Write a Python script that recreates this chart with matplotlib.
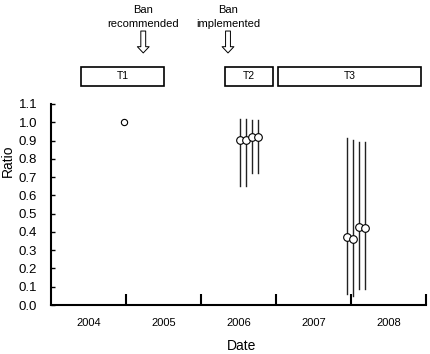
import matplotlib
matplotlib.use("Agg")
import matplotlib.pyplot as plt
from matplotlib.patches import Rectangle
from matplotlib.transforms import blended_transform_factory

plt.rcParams['font.family'] = ['Liberation Sans', 'DejaVu Sans']

# data (x as decimal year)
t1_x = [2004.97]
t1_y = [1.0]

t2_x = [2006.52, 2006.60, 2006.68, 2006.76]
t2_y = [0.905, 0.905, 0.92, 0.92]
t2_lo = [0.653, 0.653, 0.72, 0.72]
t2_hi = [1.02, 1.02, 1.015, 1.015]

t3_x = [2007.94, 2008.02, 2008.11, 2008.19]
t3_y = [0.37, 0.36, 0.425, 0.423]
t3_lo = [0.058, 0.05, 0.09, 0.09]
t3_hi = [0.912, 0.903, 0.894, 0.894]

years = [2004, 2005, 2006, 2007, 2008]
periods = ["T1", "T2", "T3"]
period_start = [2004.40, 2006.32, 2007.03]
period_end = [2005.51, 2006.96, 2008.93]
events = ["Ban\nrecommended", "Ban\nimplemented"]
event_x = [2005.23, 2006.36]

fig = plt.figure(figsize=(4.3, 3.54), dpi=100)
ax = fig.add_axes([51/430, 49/354, 375/430, 201/354])

# error bars + points
for xs, ys, lo, hi in [(t2_x, t2_y, t2_lo, t2_hi), (t3_x, t3_y, t3_lo, t3_hi)]:
    for x, y, l, h in zip(xs, ys, lo, hi):
        ax.plot([x, x], [l, h], color='#222222', lw=1.0, zorder=2)
    ax.plot(xs, ys, 'o', mfc='white', mec='black', mew=0.8, ms=5.5, zorder=3, clip_on=False)
ax.plot(t1_x, t1_y, 'o', mfc='white', mec='black', mew=0.8, ms=4.5, zorder=3)

ax.set_xlim(2004, 2009)
ax.set_ylim(0, 1.1)
ax.set_yticks([i / 10 for i in range(12)])
ax.set_yticklabels([f"{i/10:.1f}" for i in range(12)], fontsize=9.5)
ax.tick_params(axis='y', direction='in', length=3, width=1, pad=10)

ax.set_xticks([y + 1 for y in years])
ax.set_xticklabels([])
ax.tick_params(axis='x', which='major', direction='in', length=8, width=1.5)
ax.set_xticks([y + 0.5 for y in years], minor=True)
ax.set_xticklabels([str(y) for y in years], minor=True, fontsize=8)
ax.tick_params(axis='x', which='minor', length=0, pad=9)

for s in ['top', 'right']:
    ax.spines[s].set_visible(False)
ax.spines['left'].set_linewidth(1.5)
ax.spines['bottom'].set_linewidth(1.5)

ax.set_xlabel("Date", fontsize=10)
ax.xaxis.set_label_coords(0.507, -0.167)
ax.set_ylabel("Ratio", fontsize=10)
ax.yaxis.set_label_coords(-0.097, 0.72)

tr = blended_transform_factory(ax.transData, ax.transAxes)

# period boxes
for name, a, b in zip(periods, period_start, period_end):
    ax.add_patch(Rectangle((a, 1.0896), b - a, 0.0945, transform=tr, fill=False,
                           ec='black', lw=1.2, clip_on=False))
    ax.text((a + b) / 2, 1.137, name, transform=tr, ha='center', va='center', fontsize=7.5)

# event arrows
for label, x in zip(events, event_x):
    ax.annotate("", xy=(x, 1.254), xytext=(x, 1.363), xycoords=tr, textcoords=tr,
                arrowprops=dict(arrowstyle='simple,head_length=0.45,head_width=0.85,tail_width=0.35',
                                fc='white', ec='black', lw=0.7, shrinkA=0, shrinkB=0))
    ax.text(x, 1.435, label, transform=tr, ha='center', va='center', fontsize=8,
            linespacing=1.5)

fig.savefig("out.png", dpi=100)
